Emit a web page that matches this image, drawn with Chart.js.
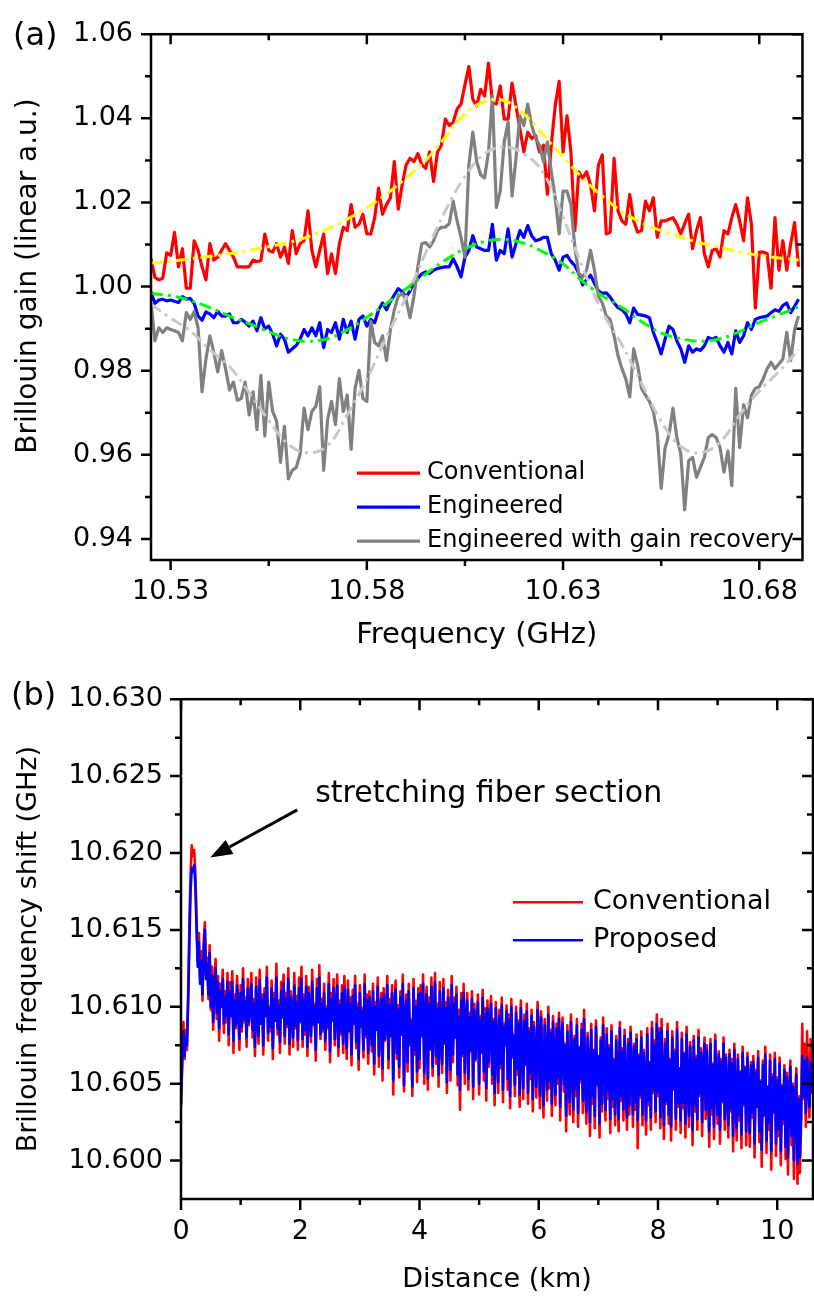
<!DOCTYPE html>
<html>
<head>
<meta charset="utf-8">
<title>Brillouin gain and frequency shift</title>
<script src="https://cdn.jsdelivr.net/npm/chart.js@4.4.1/dist/chart.umd.min.js"></script>
<style>
  body { margin: 0; background: #fff; }
  canvas { display: block; }
</style>
</head>
<body>
<canvas id="gainChart" width="814" height="665"></canvas>
<canvas id="bfsChart" width="814" height="631"></canvas>
<script>
// ---- (a) gain spectra, one sample per MHz starting at 10.525 GHz ----
const freqStartGHz = 10.525;
const freqStepGHz = 0.001;

const conventionalGain = [
  1.0066, 1.0022, 1.0016, 1.0020, 1.0080, 1.0074, 1.0129, 1.0047, 1.0090, 0.9996,
  0.9996, 1.0109, 1.0086, 1.0047, 1.0016, 1.0102, 1.0063, 1.0070, 1.0086, 1.0102,
  1.0086, 1.0070, 1.0047, 1.0047, 1.0047, 1.0047, 1.0063, 1.0059, 1.0062, 1.0125,
  1.0086, 1.0082, 1.0102, 1.0070, 1.0094, 1.0055, 1.0133, 1.0078, 1.0102, 1.0109,
  1.0180, 1.0086, 1.0047, 1.0086, 1.0125, 1.0031, 1.0078, 1.0031, 1.0102, 1.0141,
  1.0133, 1.0195, 1.0141, 1.0148, 1.0172, 1.0125, 1.0125, 1.0164, 1.0234, 1.0172,
  1.0195, 1.0211, 1.0297, 1.0184, 1.0242, 1.0289, 1.0305, 1.0297, 1.0316, 1.0290,
  1.0281, 1.0320, 1.0250, 1.0320, 1.0336, 1.0398, 1.0383, 1.0391, 1.0422, 1.0434,
  1.0480, 1.0523, 1.0445, 1.0430, 1.0469, 1.0453, 1.0531, 1.0438, 1.0434, 1.0477,
  1.0398, 1.0398, 1.0484, 1.0430, 1.0375, 1.0320, 1.0367, 1.0352, 1.0359, 1.0320,
  1.0336, 1.0219, 1.0336, 1.0430, 1.0488, 1.0320, 1.0406, 1.0320, 1.0133, 1.0273,
  1.0258, 1.0273, 1.0242, 1.0180, 1.0289, 1.0313, 1.0125, 1.0129, 1.0305, 1.0180,
  1.0156, 1.0148, 1.0219, 1.0156, 1.0129, 1.0133, 1.0203, 1.0180, 1.0211, 1.0117,
  1.0156, 1.0156, 1.0160, 1.0164, 1.0148, 1.0125, 1.0150, 1.0172, 1.0090, 1.0133,
  1.0164, 1.0078, 1.0047, 1.0086, 1.0090, 1.0070, 1.0133, 1.0125, 1.0164, 1.0195,
  1.0156, 1.0109, 1.0211, 1.0148, 0.9949, 1.0082, 1.0082, 1.0078, 0.9996, 1.0164,
  1.0039, 1.0109, 1.0039, 1.0102, 1.0152, 1.0047
];

const engineeredGain = [
  0.9988, 0.9960, 0.9968, 0.9970, 0.9966, 0.9968, 0.9965, 0.9962, 0.9976, 0.9970,
  0.9972, 0.9960, 0.9930, 0.9920, 0.9940, 0.9935, 0.9926, 0.9941, 0.9930, 0.9930,
  0.9935, 0.9914, 0.9914, 0.9922, 0.9915, 0.9906, 0.9918, 0.9895, 0.9926, 0.9900,
  0.9906, 0.9887, 0.9859, 0.9887, 0.9875, 0.9844, 0.9852, 0.9860, 0.9875, 0.9898,
  0.9883, 0.9902, 0.9883, 0.9914, 0.9855, 0.9898, 0.9891, 0.9914, 0.9875, 0.9922,
  0.9891, 0.9918, 0.9875, 0.9922, 0.9930, 0.9906, 0.9922, 0.9914, 0.9945, 0.9961,
  0.9945, 0.9965, 0.9980, 0.9995, 0.9988, 0.9975, 0.9990, 1.0008, 1.0020, 1.0030,
  1.0035, 1.0031, 1.0039, 1.0043, 1.0045, 1.0047, 1.0047, 1.0066, 1.0047, 1.0023,
  1.0070, 1.0086, 1.0121, 1.0094, 1.0090, 1.0086, 1.0086, 1.0148, 1.0063, 1.0086,
  1.0078, 1.0137, 1.0070, 1.0102, 1.0133, 1.0117, 1.0145, 1.0121, 1.0109, 1.0112,
  1.0117, 1.0117, 1.0078, 1.0063, 1.0039, 1.0070, 1.0074, 1.0060, 1.0050, 1.0031,
  1.0004, 1.0016, 1.0027, 1.0008, 0.9990, 0.9984, 0.9985, 0.9975, 0.9961, 0.9950,
  0.9945, 0.9935, 0.9914, 0.9949, 0.9934, 0.9932, 0.9930, 0.9926, 0.9891, 0.9867,
  0.9840, 0.9875, 0.9906, 0.9898, 0.9871, 0.9852, 0.9820, 0.9859, 0.9844, 0.9852,
  0.9848, 0.9859, 0.9879, 0.9875, 0.9879, 0.9859, 0.9844, 0.9867, 0.9840, 0.9895,
  0.9867, 0.9883, 0.9914, 0.9898, 0.9922, 0.9926, 0.9928, 0.9930, 0.9938, 0.9945,
  0.9941, 0.9955, 0.9961, 0.9938, 0.9953, 0.9970
];

const recoveredGain = [
  0.9961, 0.9871, 0.9902, 0.9891, 0.9902, 0.9898, 0.9895, 0.9891, 0.9871, 0.9938,
  0.9922, 0.9941, 0.9902, 0.9750, 0.9828, 0.9883, 0.9844, 0.9797, 0.9848, 0.9805,
  0.9754, 0.9773, 0.9730, 0.9734, 0.9773, 0.9695, 0.9750, 0.9660, 0.9789, 0.9645,
  0.9773, 0.9703, 0.9680, 0.9582, 0.9668, 0.9543, 0.9563, 0.9570, 0.9602, 0.9711,
  0.9660, 0.9703, 0.9715, 0.9762, 0.9563, 0.9684, 0.9727, 0.9672, 0.9781, 0.9703,
  0.9742, 0.9613, 0.9758, 0.9801, 0.9734, 0.9727, 0.9918, 0.9867, 0.9859, 0.9883,
  0.9824, 0.9898, 0.9945, 0.9977, 0.9984, 0.9969, 0.9926, 0.9977, 1.0047, 1.0102,
  1.0105, 1.0094, 1.0109, 1.0133, 1.0141, 1.0141, 1.0150, 1.0203, 1.0156, 1.0117,
  1.0070, 1.0289, 1.0367, 1.0297, 1.0266, 1.0258, 1.0320, 1.0453, 1.0188, 1.0227,
  1.0344, 1.0391, 1.0215, 1.0305, 1.0406, 1.0383, 1.0434, 1.0383, 1.0352, 1.0336,
  1.0297, 1.0344, 1.0273, 1.0211, 1.0125, 1.0227, 1.0227, 1.0195, 1.0094, 1.0031,
  1.0023, 1.0039, 1.0086, 1.0039, 0.9977, 0.9961, 0.9930, 0.9922, 0.9883, 0.9836,
  0.9805, 0.9780, 0.9738, 0.9852, 0.9813, 0.9758, 0.9742, 0.9727, 0.9703, 0.9652,
  0.9520, 0.9617, 0.9648, 0.9711, 0.9641, 0.9602, 0.9469, 0.9586, 0.9594, 0.9547,
  0.9570, 0.9594, 0.9641, 0.9648, 0.9641, 0.9617, 0.9559, 0.9609, 0.9527, 0.9758,
  0.9617, 0.9719, 0.9688, 0.9742, 0.9758, 0.9762, 0.9781, 0.9805, 0.9820, 0.9805,
  0.9816, 0.9828, 0.9891, 0.9824, 0.9898, 0.9930
];

// fitted curves, every 5 MHz
const fitFreqGHz = [
  10.525, 10.530, 10.535, 10.540, 10.545, 10.550, 10.555, 10.560, 10.565, 10.570,
  10.575, 10.580, 10.585, 10.590, 10.595, 10.600, 10.605, 10.610, 10.615, 10.620,
  10.625, 10.630, 10.635, 10.640, 10.645, 10.650, 10.655, 10.660, 10.665, 10.670,
  10.675, 10.680, 10.685, 10.690
];
const conventionalFit = [
  1.0056, 1.0060, 1.0066, 1.0072, 1.0078, 1.0086, 1.0095, 1.0105, 1.0118, 1.0137,
  1.0160, 1.0188, 1.0220, 1.0258, 1.0300, 1.0355, 1.0410, 1.0440, 1.0442, 1.0410,
  1.0360, 1.0308, 1.0258, 1.0215, 1.0178, 1.0152, 1.0133, 1.0118, 1.0104, 1.0093,
  1.0083, 1.0074, 1.0068, 1.0063
];
const engineeredFit = [
  0.9984, 0.9978, 0.9967, 0.9950, 0.9930, 0.9912, 0.9893, 0.9876, 0.9870, 0.9876,
  0.9897, 0.9927, 0.9960, 0.9995, 1.0030, 1.0063, 1.0090, 1.0107, 1.0112, 1.0103,
  1.0082, 1.0054, 1.0012, 0.9978, 0.9950, 0.9917, 0.9890, 0.9876, 0.9870, 0.9876,
  0.9893, 0.9915, 0.9933, 0.9952
];
const recoveredFit = [
  0.9958, 0.9925, 0.9895, 0.9850, 0.9810, 0.9748, 0.9682, 0.9625, 0.9605, 0.9622,
  0.9695, 0.9780, 0.9880, 0.9975, 1.0080, 1.0180, 1.0262, 1.0316, 1.0332, 1.0316,
  1.0270, 1.0165, 1.0045, 0.9940, 0.9862, 0.9770, 0.9680, 0.9620, 0.9605, 0.9630,
  0.9695, 0.9752, 0.9798, 0.9850
];

const freqTicks = [10.53, 10.58, 10.63, 10.68];
const gainTicks = [0.94, 0.96, 0.98, 1.00, 1.02, 1.04, 1.06];

// ---- (b) BFS along the fiber, one sample every 20 m ----
// values are stored as (BFS - 10.6 GHz) in MHz
const distStepKm = 0.02;
const bfsBaseGHz = 10.6;

const conventionalShiftMHz = [
  3.5, 6.8, 9.0, 6.6, 8.5, 7.2, 11.0, 15.2, 18.6, 20.5, 19.8, 20.2, 18.8, 16.0, 13.0, 14.8, 11.8, 13.6, 10.4, 14.2,
  15.5, 12.0, 13.2, 10.5, 14.0, 9.8, 12.6, 8.5, 11.8, 13.1, 9.2, 12.0, 7.8, 11.5, 10.2, 12.4, 8.3, 11.0, 9.0, 12.2,
  7.5, 11.6, 9.4, 12.3, 7.0, 10.8, 8.6, 12.0, 9.8, 7.2, 11.4, 8.4, 12.5, 9.0, 10.6, 7.4, 11.8, 8.8, 10.2, 12.2,
  8.0, 10.5, 6.8, 11.9, 9.2, 7.6, 12.4, 8.9, 10.8, 6.9, 11.2, 9.6, 12.6, 7.8, 10.0, 8.4, 11.7, 6.6, 10.9, 9.1,
  12.8, 8.2, 10.4, 7.0, 11.6, 9.4, 12.1, 7.6, 10.9, 8.7, 12.5, 6.9, 11.0, 9.8, 7.4, 12.2, 8.6, 10.7, 7.2, 11.9,
  9.0, 12.6, 7.4, 10.8, 8.2, 12.0, 6.8, 11.3, 9.6, 7.7, 12.4, 8.8, 10.2, 6.5, 11.8, 9.1, 12.7, 7.9, 10.5, 8.4,
  11.5, 7.2, 10.0, 8.6, 12.2, 6.4, 10.9, 9.3, 11.8, 7.5, 9.8, 12.1, 6.8, 10.4, 8.2, 11.4, 7.0, 12.0, 9.0, 6.6,
  11.7, 8.4, 10.6, 6.2, 11.1, 9.0, 12.0, 7.3, 10.2, 5.9, 11.4, 8.8, 9.9, 6.7, 12.1, 8.0, 10.8, 6.3, 11.0, 9.4,
  7.1, 11.5, 5.6, 10.3, 8.6, 11.9, 6.1, 9.7, 10.9, 5.2, 11.2, 7.8, 9.4, 12.0, 6.0, 10.5, 8.1, 11.4, 4.3, 9.9,
  11.7, 6.6, 10.1, 5.4, 11.0, 8.3, 12.1, 4.5, 9.6, 10.8, 5.8, 11.5, 7.5, 9.2, 4.2, 11.8, 6.9, 10.4, 5.1, 11.2,
  6.0, 11.4, 8.2, 12.1, 5.0, 9.9, 11.3, 4.6, 10.6, 7.2, 11.9, 5.5, 9.1, 12.2, 6.3, 10.2, 4.8, 11.6, 8.0, 5.7,
  11.8, 7.6, 10.3, 4.4, 11.1, 8.9, 5.2, 12.0, 6.4, 10.6, 8.1, 11.3, 4.9, 9.8, 3.3, 10.9, 6.8, 11.5, 5.0, 9.2,
  10.9, 4.6, 9.6, 7.1, 11.0, 4.0, 10.2, 6.5, 8.8, 10.8, 4.3, 9.4, 7.0, 11.1, 5.2, 9.9, 3.9, 10.4, 6.1, 8.6,
  10.7, 5.0, 9.2, 3.6, 10.3, 7.4, 4.4, 9.8, 6.0, 10.6, 3.8, 8.9, 7.6, 10.1, 4.6, 9.5, 3.4, 10.5, 6.7, 8.2,
  4.2, 10.0, 5.6, 9.1, 3.5, 10.4, 7.1, 4.0, 9.5, 6.2, 10.2, 3.7, 8.6, 5.3, 9.8, 3.2, 9.0, 6.6, 4.1, 10.3,
  8.4, 3.4, 9.7, 5.9, 2.8, 9.2, 6.8, 3.9, 10.0, 4.7, 8.5, 2.9, 9.4, 6.1, 3.6, 8.9, 5.0, 9.6, 2.6, 7.8,
  9.3, 4.5, 7.6, 1.9, 8.8, 5.6, 3.0, 9.5, 6.3, 2.5, 8.1, 4.2, 9.2, 2.2, 7.4, 5.1, 8.9, 3.1, 9.8, 4.8,
  2.4, 8.3, 5.8, 1.6, 8.9, 3.7, 7.2, 2.1, 9.1, 4.9, 6.8, 1.5, 8.0, 3.2, 9.3, 5.5, 2.6, 8.6, 4.0, 7.5,
  1.8, 8.8, 3.5, 6.6, 2.3, 8.1, 5.2, 1.9, 9.0, 3.9, 7.3, 2.6, 8.5, 4.6, 2.0, 7.9, 3.0, 8.7, 5.9, 2.2,
  7.6, 3.3, 8.2, 0.8, 6.9, 4.1, 8.4, 2.3, 7.2, 5.3, 1.7, 8.6, 3.6, 6.4, 2.0, 9.0, 4.4, 7.8, 2.5, 9.5,
  4.2, 8.6, 2.1, 9.2, 5.0, 1.4, 7.9, 3.7, 8.9, 2.4, 6.6, 1.3, 8.4, 4.6, 7.2, 2.0, 9.0, 3.5, 6.0, 1.8,
  8.3, 3.4, 7.0, 1.5, 8.7, 4.8, 2.2, 7.7, 5.6, 1.0, 8.1, 3.2, 6.8, 2.0, 8.5, 4.2, 7.3, 1.6, 6.2, 8.0,
  2.7, 7.5, 4.4, 0.9, 7.9, 3.0, 6.3, 1.4, 8.2, 5.0, 2.4, 7.1, 1.1, 6.6, 3.8, 8.0, 2.0, 6.9, 4.6, 1.5,
  7.2, 3.2, 6.6, 0.6, 7.6, 4.1, 1.3, 6.9, 2.6, 5.8, 0.8, 7.4, 3.6, 6.1, 1.0, 7.0, 4.5, 0.9, 6.4, 2.8,
  6.8, 0.2, 5.9, 3.5, 7.1, 1.2, 5.2, -0.4, 6.5, 2.9, 7.4, 0.5, 4.8, 2.0, 6.9, -0.6, 5.6, 3.1, 7.0, 0.3,
  5.4, 1.6, 6.7, -0.3, 4.9, 2.4, 6.2, 0.1, 5.7, -0.9, 4.4, 6.5, 1.0, 5.0, -1.2, 3.8, 6.0, -1.5, 4.2, -0.8,
  2.5, 8.9, 4.0, 7.6, 2.2, 8.4, 5.1, 2.8, 7.9, 4.4, 6.8
];

const proposedShiftMHz = [
  3.6, 6.2, 8.4, 6.8, 8.0, 7.5, 10.2, 14.0, 17.5, 19.0, 18.8, 19.2, 18.0, 15.2, 12.6, 14.2, 11.5, 13.0, 10.8, 13.5,
  15.0, 11.8, 12.8, 10.8, 13.5, 10.0, 12.0, 9.0, 11.4, 12.5, 9.6, 11.6, 8.6, 11.0, 10.0, 11.8, 8.9, 10.6, 9.4, 11.6,
  8.2, 11.0, 9.4, 11.6, 7.8, 10.4, 8.8, 11.4, 9.7, 7.9, 10.9, 8.7, 11.8, 9.2, 10.3, 8.0, 11.2, 9.0, 10.0, 11.5,
  8.5, 10.2, 7.4, 11.3, 9.2, 8.1, 11.7, 8.9, 10.4, 7.5, 10.8, 9.4, 11.9, 8.3, 9.9, 8.7, 11.2, 7.3, 10.5, 9.1,
  11.9, 8.6, 10.1, 7.7, 11.0, 9.3, 11.5, 8.1, 10.5, 8.9, 11.8, 7.6, 10.6, 9.6, 8.0, 11.4, 8.8, 10.3, 7.8, 11.2,
  9.1, 11.8, 7.9, 10.5, 8.5, 11.3, 7.4, 10.9, 9.4, 8.1, 11.6, 8.9, 10.0, 7.2, 11.2, 9.0, 11.9, 8.2, 10.2, 8.6,
  10.9, 7.8, 9.8, 8.7, 11.5, 7.1, 10.5, 9.1, 11.2, 7.9, 9.6, 11.4, 7.4, 10.1, 8.4, 10.9, 7.6, 11.3, 8.9, 7.3,
  11.1, 8.5, 10.2, 6.9, 10.7, 8.9, 11.4, 7.7, 9.9, 6.6, 10.9, 8.7, 9.7, 7.2, 11.5, 8.2, 10.4, 7.0, 10.6, 9.1,
  7.5, 11.0, 6.3, 10.0, 8.5, 11.3, 6.8, 9.5, 10.5, 6.0, 10.8, 7.9, 9.2, 11.4, 6.6, 10.1, 8.1, 10.9, 5.2, 9.6,
  11.1, 7.0, 9.8, 6.1, 10.6, 8.2, 11.5, 4.9, 9.4, 10.4, 6.4, 11.0, 7.7, 9.0, 4.8, 11.2, 7.2, 10.0, 5.8, 10.8,
  6.6, 10.9, 8.1, 11.5, 5.7, 9.6, 10.8, 5.3, 10.2, 7.3, 11.3, 6.1, 8.9, 11.6, 6.8, 9.9, 5.6, 11.0, 7.9, 6.3,
  11.2, 7.7, 9.9, 5.1, 10.6, 8.7, 5.9, 11.4, 6.9, 10.2, 8.0, 10.8, 5.6, 9.4, 4.6, 10.4, 7.0, 10.9, 5.7, 9.0,
  10.4, 5.3, 9.3, 7.2, 10.5, 4.8, 9.8, 6.6, 8.6, 10.3, 5.0, 9.1, 7.1, 10.6, 5.8, 9.5, 4.7, 9.9, 6.4, 8.5,
  10.2, 5.6, 9.0, 4.4, 9.9, 7.3, 5.1, 9.4, 6.3, 10.1, 4.6, 8.7, 7.5, 9.7, 5.3, 9.2, 4.2, 10.0, 6.8, 8.1,
  4.9, 9.6, 6.0, 8.9, 4.3, 9.9, 7.0, 4.7, 9.1, 6.3, 9.7, 4.4, 8.4, 5.7, 9.4, 4.0, 8.7, 6.5, 4.8, 9.8,
  8.2, 4.2, 9.3, 6.0, 3.6, 8.8, 6.7, 4.6, 9.5, 5.2, 8.3, 3.7, 9.0, 6.2, 4.3, 8.6, 5.4, 9.2, 3.5, 7.7,
  8.9, 5.0, 7.5, 2.9, 8.4, 5.7, 3.8, 9.0, 6.3, 3.3, 7.9, 4.7, 8.8, 3.1, 7.3, 5.3, 8.5, 3.9, 9.2, 5.1,
  3.2, 8.0, 5.8, 2.5, 8.5, 4.2, 7.1, 2.9, 8.7, 5.0, 6.8, 2.4, 7.8, 3.7, 8.8, 5.5, 3.3, 8.2, 4.5, 7.3,
  2.7, 8.4, 4.0, 6.5, 3.0, 7.8, 5.2, 2.7, 8.6, 4.2, 7.1, 3.3, 8.1, 4.8, 2.8, 7.6, 3.6, 8.3, 5.8, 3.0,
  7.4, 3.8, 7.9, 2.6, 6.8, 4.3, 8.0, 3.0, 7.0, 5.3, 2.6, 8.2, 3.9, 6.3, 2.8, 8.6, 4.6, 7.5, 3.2, 8.9,
  4.5, 8.3, 2.8, 8.6, 5.1, 2.3, 7.6, 3.9, 8.4, 3.0, 6.5, 2.2, 8.0, 4.7, 7.0, 2.7, 8.5, 3.8, 6.0, 2.6,
  7.9, 3.8, 6.9, 2.4, 8.2, 4.8, 2.9, 7.4, 5.5, 2.0, 7.8, 3.6, 6.6, 2.7, 8.0, 4.4, 7.0, 2.5, 6.1, 7.6,
  3.3, 7.2, 4.5, 1.9, 7.6, 3.4, 6.2, 2.2, 7.8, 4.9, 3.0, 6.9, 2.0, 6.4, 3.9, 7.6, 2.7, 6.7, 4.6, 2.3,
  6.9, 3.4, 6.3, 1.6, 7.2, 4.1, 2.1, 6.6, 3.0, 5.7, 1.7, 7.0, 3.7, 6.0, 1.9, 6.7, 4.4, 1.8, 6.2, 3.1,
  6.4, 1.1, 5.7, 3.5, 6.7, 1.9, 5.1, 0.7, 6.2, 3.0, 6.9, 1.3, 4.8, 2.5, 6.5, 0.6, 5.4, 3.2, 6.6, 1.1,
  5.2, 2.1, 6.3, 0.6, 4.8, 2.7, 5.9, 0.9, 5.4, 0.2, 4.3, 6.1, 1.6, 4.8, 0.0, 3.8, 5.6, -0.2, 4.0, 0.2,
  2.9, 6.8, 4.2, 6.5, 3.1, 6.7, 4.8, 3.5, 6.4, 4.6, 5.6
];

const distTicks = [0, 2, 4, 6, 8, 10];
const bfsTicks = [10.600, 10.605, 10.610, 10.615, 10.620, 10.625, 10.630];

const FONT = "'DejaVu Sans', sans-serif";
Chart.defaults.font.family = FONT;
Chart.defaults.color = '#000';

const freqGHz = conventionalGain.map((_, i) => +(freqStartGHz + i * freqStepGHz).toFixed(3));
const distKm = conventionalShiftMHz.map((_, i) => +(i * distStepKm).toFixed(2));
const toGHz = mhz => bfsBaseGHz + mhz / 1000;
const xy = (xs, ys) => ys.map((y, i) => ({ x: xs[i], y: y }));
const fixedTicks = values => scale => { scale.ticks = values.map(v => ({ value: v })); };

// plot frame plus ticks: out on bottom/left, in on top/right, minor ticks halfway
const framePlugin = {
  id: 'frame',
  afterDraw(chart, args, opts) {
    const { ctx, chartArea: a, scales: { x, y } } = chart;
    const marks = scale => {
      const major = scale.ticks.map(t => t.value);
      const half = (major[1] - major[0]) / 2;
      const minor = [major[0] - half, ...major.map(v => v + half)]
        .filter(v => v > scale.min + 1e-9 && v < scale.max - 1e-9);
      return major.map(v => [v, opts.major]).concat(minor.map(v => [v, opts.minor]));
    };
    ctx.save();
    ctx.strokeStyle = '#000';
    ctx.lineWidth = opts.width;
    ctx.beginPath();
    marks(x).forEach(([v, len]) => {
      const px = x.getPixelForValue(v);
      ctx.moveTo(px, a.bottom); ctx.lineTo(px, a.bottom + len);
      ctx.moveTo(px, a.top); ctx.lineTo(px, a.top + len);
    });
    marks(y).forEach(([v, len]) => {
      const py = y.getPixelForValue(v);
      ctx.moveTo(a.left - len, py); ctx.lineTo(a.left, py);
      ctx.moveTo(a.right - len, py); ctx.lineTo(a.right, py);
    });
    ctx.stroke();
    ctx.strokeRect(a.left, a.top, a.width, a.height);
    ctx.restore();
  }
};

// legend drawn inside the plot area
const legendPlugin = {
  id: 'insideLegend',
  afterDraw(chart, args, opts) {
    const { ctx, chartArea: a } = chart;
    const x0 = a.left + opts.left;
    ctx.save();
    ctx.font = opts.fontSize + 'px ' + FONT;
    ctx.textBaseline = 'middle';
    ctx.fillStyle = '#000';
    ctx.lineWidth = opts.lineWidth;
    chart.data.datasets.filter(ds => ds.inLegend).forEach((ds, i) => {
      const yy = a.top + opts.top + i * opts.rowHeight;
      ctx.strokeStyle = ds.borderColor;
      ctx.beginPath();
      ctx.moveTo(x0, yy);
      ctx.lineTo(x0 + opts.lineLength, yy);
      ctx.stroke();
      ctx.fillText(ds.label, x0 + opts.lineLength + opts.gap, yy);
    });
    ctx.restore();
  }
};

// panel letter, free-standing axis title and the arrow note
const notesPlugin = {
  id: 'notes',
  afterDraw(chart, args, opts) {
    const { ctx, scales: { x, y } } = chart;
    ctx.save();
    ctx.fillStyle = '#000';
    ctx.strokeStyle = '#000';
    ctx.font = opts.panel.size + 'px ' + FONT;
    ctx.fillText(opts.panel.text, opts.panel.x, opts.panel.y);
    if (opts.yTitle) {
      const t = opts.yTitle;
      ctx.save();
      ctx.translate(t.x, t.y);
      ctx.rotate(-Math.PI / 2);
      ctx.font = t.size + 'px ' + FONT;
      ctx.textAlign = 'center';
      ctx.textBaseline = 'middle';
      ctx.fillText(t.text, 0, 0);
      ctx.restore();
    }
    if (opts.note) {
      const n = opts.note;
      ctx.font = n.size + 'px ' + FONT;
      ctx.fillText(n.text, x.getPixelForValue(n.x), y.getPixelForValue(n.y));
      const x1 = x.getPixelForValue(n.fromX), y1 = y.getPixelForValue(n.fromY);
      const x2 = x.getPixelForValue(n.toX), y2 = y.getPixelForValue(n.toY);
      const ang = Math.atan2(y2 - y1, x2 - x1);
      const bx = x2 - n.head * Math.cos(ang), by = y2 - n.head * Math.sin(ang);
      ctx.lineWidth = 3;
      ctx.beginPath();
      ctx.moveTo(x1, y1);
      ctx.lineTo(bx, by);
      ctx.stroke();
      ctx.beginPath();
      ctx.moveTo(x2, y2);
      ctx.lineTo(bx + n.halfWidth * Math.sin(ang), by - n.halfWidth * Math.cos(ang));
      ctx.lineTo(bx - n.halfWidth * Math.sin(ang), by + n.halfWidth * Math.cos(ang));
      ctx.closePath();
      ctx.fill();
    }
    ctx.restore();
  }
};

const dashDot = [12, 5, 3, 5];
const noGrid = { display: false, drawTicks: false };

new Chart(document.getElementById('gainChart'), {
  type: 'line',
  data: {
    datasets: [
      { label: 'Conventional', data: xy(freqGHz, conventionalGain), borderColor: '#ff0000', borderWidth: 3.2, order: 6, inLegend: true },
      { label: 'Engineered', data: xy(freqGHz, engineeredGain), borderColor: '#0000ff', borderWidth: 3.2, order: 5, inLegend: true },
      { label: 'Engineered with gain recovery', data: xy(freqGHz, recoveredGain), borderColor: '#808080', borderWidth: 3.2, order: 4, inLegend: true },
      { label: 'Conventional fit', data: xy(fitFreqGHz, conventionalFit), borderColor: '#ffff00', borderWidth: 3, borderDash: dashDot, tension: 0.4, order: 1 },
      { label: 'Engineered fit', data: xy(fitFreqGHz, engineeredFit), borderColor: '#00ff00', borderWidth: 3, borderDash: dashDot, tension: 0.4, order: 2 },
      { label: 'Gain recovery fit', data: xy(fitFreqGHz, recoveredFit), borderColor: '#c8c8c8', borderWidth: 3, borderDash: dashDot, tension: 0.4, order: 3 }
    ]
  },
  options: {
    responsive: false,
    animation: false,
    elements: { point: { radius: 0 }, line: { borderJoinStyle: 'round', fill: false } },
    layout: { padding: { top: 27, right: 1, left: 0, bottom: 0 } },
    plugins: {
      legend: { display: false },
      tooltip: { enabled: false },
      frame: { width: 2.5, major: 10, minor: 6 },
      insideLegend: { left: 206, top: 439, rowHeight: 34, lineLength: 63, gap: 7, fontSize: 24, lineWidth: 3.2 },
      notes: {
        panel: { text: '(a)', x: 13, y: 45, size: 32 },
        yTitle: { text: 'Brillouin gain (linear a.u.)', x: 29, y: 276, size: 28 }
      }
    },
    scales: {
      x: {
        type: 'linear', min: 10.525, max: 10.691,
        afterBuildTicks: fixedTicks(freqTicks),
        afterFit: s => { s.height = 105; },
        grid: noGrid, border: { display: false },
        ticks: { padding: 16, font: { size: 27 }, maxRotation: 0, autoSkip: false, callback: v => v.toFixed(2) },
        title: { display: true, text: 'Frequency (GHz)', font: { size: 29 }, padding: { top: 0, bottom: 12 } }
      },
      y: {
        type: 'linear', min: 0.935, max: 1.06,
        afterBuildTicks: fixedTicks(gainTicks),
        afterFit: s => { s.width = 151; },
        grid: noGrid, border: { display: false },
        ticks: { padding: 18, font: { size: 27 }, autoSkip: false, callback: v => v.toFixed(2) }
      }
    }
  },
  plugins: [framePlugin, legendPlugin, notesPlugin]
});

new Chart(document.getElementById('bfsChart'), {
  type: 'line',
  data: {
    datasets: [
      { label: 'Conventional', data: xy(distKm, conventionalShiftMHz.map(toGHz)), borderColor: '#ff0000', borderWidth: 2.6, order: 2, inLegend: true },
      { label: 'Proposed', data: xy(distKm, proposedShiftMHz.map(toGHz)), borderColor: '#0000ff', borderWidth: 2.6, order: 1, inLegend: true }
    ]
  },
  options: {
    responsive: false,
    animation: false,
    elements: { point: { radius: 0 }, line: { borderJoinStyle: 'round', fill: false } },
    layout: { padding: { top: 25, right: 1, left: 0, bottom: 0 } },
    plugins: {
      legend: { display: false },
      tooltip: { enabled: false },
      frame: { width: 2.5, major: 11, minor: 6 },
      insideLegend: { left: 332, top: 203, rowHeight: 38, lineLength: 70, gap: 10, fontSize: 27, lineWidth: 2.5 },
      notes: {
        panel: { text: '(b)', x: 11, y: 40, size: 32 },
        note: {
          text: 'stretching fiber section', size: 30, x: 2.25, y: 10.6233,
          fromX: 1.95, fromY: 10.6228, toX: 0.49, toY: 10.6197, head: 22, halfWidth: 8
        }
      }
    },
    scales: {
      x: {
        type: 'linear', min: 0, max: 10.6,
        afterBuildTicks: fixedTicks(distTicks),
        afterFit: s => { s.height = 97; },
        grid: noGrid, border: { display: false },
        ticks: { padding: 17, font: { size: 27 }, maxRotation: 0, autoSkip: false, callback: v => String(v) },
        title: { display: true, text: 'Distance (km)', font: { size: 27 }, padding: { top: 0, bottom: 0 } }
      },
      y: {
        type: 'linear', min: 10.5975, max: 10.630,
        afterBuildTicks: fixedTicks(bfsTicks),
        afterFit: s => { s.width = 181; },
        grid: noGrid, border: { display: false },
        ticks: { padding: 18, font: { size: 27 }, autoSkip: false, callback: v => v.toFixed(3) },
        title: { display: true, text: 'Brillouin frequency shift (GHz)', font: { size: 27 }, padding: { top: 13, bottom: 0 } }
      }
    }
  },
  plugins: [framePlugin, legendPlugin, notesPlugin]
});
</script>
</body>
</html>
